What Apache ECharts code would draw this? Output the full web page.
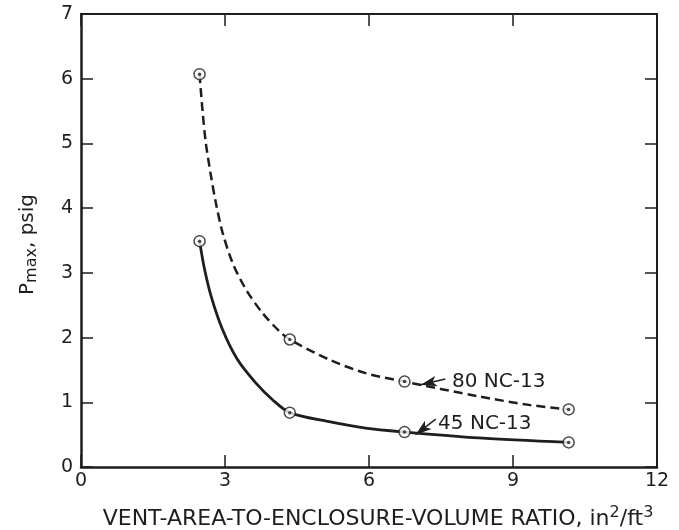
<!DOCTYPE html>
<html><head><meta charset="utf-8">
<script src="https://cdn.jsdelivr.net/npm/echarts@6/dist/echarts.min.js"></script>
<style>html,body{margin:0;padding:0;background:#fff}#c{width:679px;height:530px}</style>
</head><body><div id="c"></div>
<script>
// measured points (circled markers)
var ratio = [2.47, 4.35, 6.74, 10.16];
var nc80 = [6.07, 1.97, 1.32, 0.89];
var nc45 = [3.49, 0.84, 0.54, 0.38];
var trace80X = [2.47, 2.53, 2.60, 2.71, 2.81, 2.95, 3.16, 3.44, 3.78, 4.13, 4.35, 5.17, 5.93, 6.74, 8.29, 9.33, 10.16];
var trace80Y = [6.07, 5.52, 5.01, 4.49, 4.08, 3.62, 3.15, 2.74, 2.38, 2.10, 1.97, 1.66, 1.45, 1.32, 1.09, 0.96, 0.89];
var trace45X = [2.47, 2.57, 2.71, 2.95, 3.26, 3.64, 3.99, 4.35, 5.17, 5.93, 6.74, 8.29, 10.16];
var trace45Y = [3.49, 3.07, 2.64, 2.12, 1.66, 1.30, 1.04, 0.84, 0.70, 0.60, 0.54, 0.45, 0.38];
var xTicks = [0, 3, 6, 9, 12];
var yTicks = [0, 1, 2, 3, 4, 5, 6, 7];
var arrow80 = [[7.59, 1.36], [7.08, 1.27]];
var arrow45 = [[7.39, 0.74], [6.97, 0.50]];
var label80 = [7.73, 1.32, '80 NC-13'];
var label45 = [7.44, 0.67, '45 NC-13'];

function pairs(xs, ys){ return xs.map(function(x,i){return [x, ys[i]];}); }
var ink = '#1e1e1e';
var font = 'DejaVu Sans';
var chart = echarts.init(document.getElementById('c'));
var tick = {show:true, inside:true, length:12, lineStyle:{color:ink, width:1.5}};
chart.setOption({
  animation:false,
  grid:{left:81, right:22, top:14, bottom:63, outerBoundsMode:'none', containLabel:false},
  xAxis:[{
    type:'value', min:0, max:12, interval:3, position:'bottom',
    axisLine:{show:true, onZero:false, lineStyle:{color:ink, width:2.5}},
    axisTick:tick, splitLine:{show:false},
    axisLabel:{color:ink, fontSize:19, fontFamily:font, margin:5,
      formatter:function(v){return xTicks.indexOf(v)>=0 ? String(v) : '';}},
    name:'VENT-AREA-TO-ENCLOSURE-VOLUME RATIO, in{sup|2}/ft{sup|3}',
    nameLocation:'middle', nameGap:38,
    nameTextStyle:{color:ink, fontSize:22, fontFamily:font, padding:[0,0,0,18],
      rich:{sup:{fontSize:16, fontFamily:font, color:ink, padding:[0,0,12,0]}}}
  },{
    type:'value', min:0, max:12, interval:3, position:'top',
    axisLine:{show:true, onZero:false, lineStyle:{color:ink, width:2}},
    axisTick:tick, axisLabel:{show:false}, splitLine:{show:false}
  }],
  yAxis:[{
    type:'value', min:0, max:7, interval:1, position:'left',
    axisLine:{show:true, onZero:false, lineStyle:{color:ink, width:2.5}},
    axisTick:tick, splitLine:{show:false},
    axisLabel:{color:ink, fontSize:19, fontFamily:font, margin:8,
      formatter:function(v){return yTicks.indexOf(v)>=0 ? String(v) : '';}},
    name:'P{sub|max}, psig', nameLocation:'middle', nameGap:41, nameRotate:90,
    nameTextStyle:{color:ink, fontSize:20, fontFamily:font, padding:[0,8,0,0],
      rich:{sub:{fontSize:16, fontFamily:font, color:ink, padding:[9,0,0,0]}}}
  },{
    type:'value', min:0, max:7, interval:1, position:'right',
    axisLine:{show:true, onZero:false, lineStyle:{color:ink, width:2}},
    axisTick:tick, axisLabel:{show:false}, splitLine:{show:false}
  }],
  series:[
    {type:'line', name:'80 NC-13', data:pairs(trace80X, trace80Y), smooth:0.3,
     symbol:'none',
     lineStyle:{color:ink, width:2.5, type:[9,5]},
     markLine:{silent:true, symbol:['none','arrow'], symbolSize:[8,16],
       lineStyle:{color:ink, width:1.5, type:'solid'}, label:{show:false},
       data:[[{coord:arrow80[0]},{coord:arrow80[1]}]]},
     markPoint:{symbol:'circle', symbolSize:0,
       label:{show:true, position:'right', distance:0, color:ink, fontSize:20, fontFamily:font, formatter:'{b}'},
       data:[{name:label80[2], coord:[label80[0], label80[1]]}]}
    },
    {type:'line', name:'45 NC-13', data:pairs(trace45X, trace45Y), smooth:0.3,
     symbol:'none',
     lineStyle:{color:ink, width:2.8},
     markLine:{silent:true, symbol:['none','arrow'], symbolSize:[8,16],
       lineStyle:{color:ink, width:1.5, type:'solid'}, label:{show:false},
       data:[[{coord:arrow45[0]},{coord:arrow45[1]}]]},
     markPoint:{symbol:'circle', symbolSize:0,
       label:{show:true, position:'right', distance:0, color:ink, fontSize:20, fontFamily:font, formatter:'{b}'},
       data:[{name:label45[2], coord:[label45[0], label45[1]]}]}
    },
    {type:'scatter', data:pairs(ratio, nc80).concat(pairs(ratio, nc45)), symbol:'circle', symbolSize:11,
     itemStyle:{color:'#fff', borderColor:ink, borderWidth:1.5}, z:4},
    {type:'scatter', data:pairs(ratio, nc80).concat(pairs(ratio, nc45)), symbol:'circle', symbolSize:3.5,
     itemStyle:{color:ink}, z:5}
  ]
});
</script></body></html>
